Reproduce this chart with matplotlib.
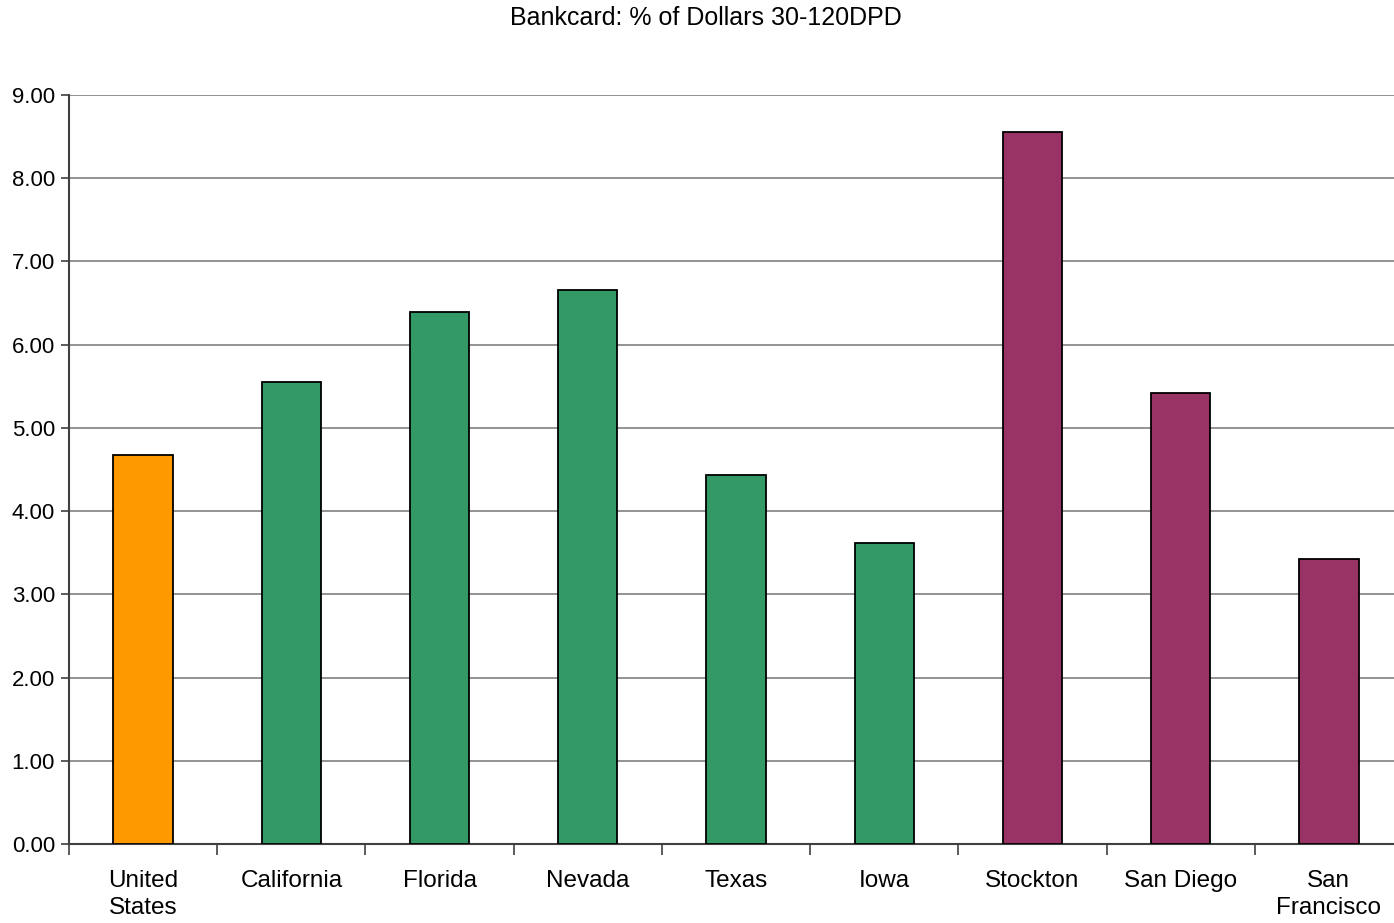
import matplotlib.pyplot as plt
from matplotlib.ticker import MultipleLocator, FixedLocator

plt.rcParams['font.family'] = ['Liberation Sans', 'DejaVu Sans']

categories = ["United\nStates", "California", "Florida", "Nevada", "Texas",
              "Iowa", "Stockton", "San Diego", "San\nFrancisco"]
values = [4.68, 5.55, 6.39, 6.66, 4.43, 3.62, 8.55, 5.42, 3.42]
colors = ["#FF9900"] + ["#339966"] * 5 + ["#993366"] * 3

fig = plt.figure(figsize=(13.94, 9.23), dpi=100)
ax = fig.add_axes([69 / 1394, 79 / 923, 1334 / 1394, 749 / 923])

x = list(range(len(categories)))
ax.bar(x, values, width=0.4, color=colors, edgecolor="black", linewidth=1.3, zorder=3)

ax.set_xlim(-0.5, len(categories) - 0.5)
ax.set_ylim(0, 9)
ax.yaxis.set_major_locator(MultipleLocator(1))
ax.yaxis.set_major_formatter(plt.FuncFormatter(lambda v, p: f"{v:.2f}"))
ax.grid(axis="y", color="#808080", linewidth=1.2, zorder=0)

ax.set_xticks(x)
ax.set_xticklabels(categories, fontsize=17.5, linespacing=1.3)
ax.xaxis.set_minor_locator(FixedLocator([i - 0.5 for i in range(len(categories) + 1)]))
ax.tick_params(axis="x", which="major", length=0, pad=19)
ax.tick_params(axis="x", which="minor", length=8, width=1.2, color="#404040")
ax.tick_params(axis="y", length=6, width=1.2, color="#404040", labelsize=16, pad=4)

for side in ["top", "right"]:
    ax.spines[side].set_visible(False)
for side in ["left", "bottom"]:
    ax.spines[side].set_color("#404040")
    ax.spines[side].set_linewidth(1.5)

fig.text(706 / 1394, 1 - 18 / 923, "Bankcard: % of Dollars 30-120DPD",
         ha="center", va="center", fontsize=18)

fig.savefig("out.png", dpi=100)
